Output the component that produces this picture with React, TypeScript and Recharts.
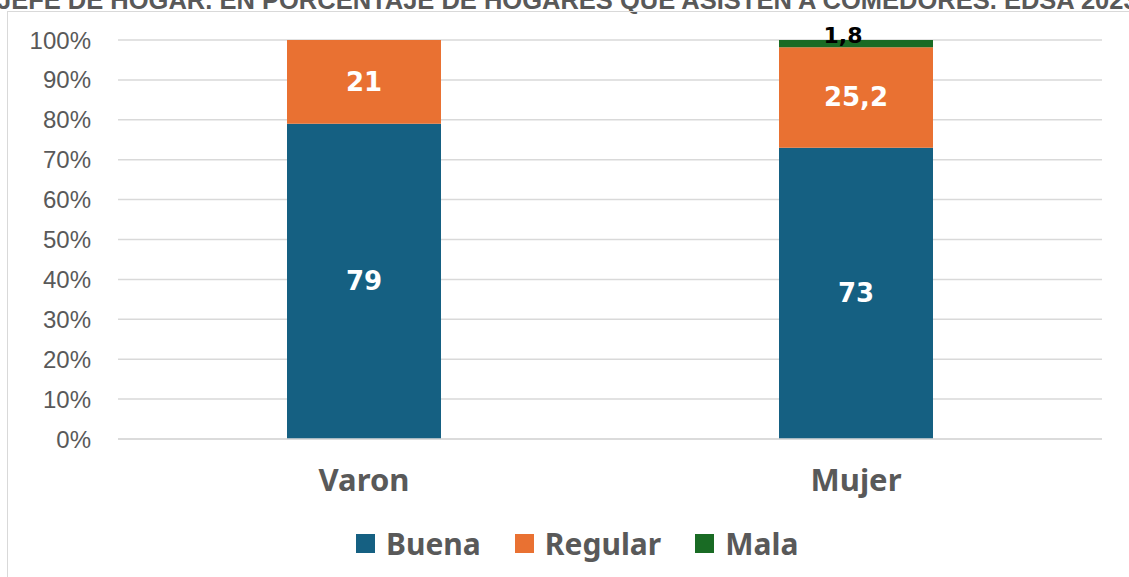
import { BarChart, Bar, XAxis, YAxis, CartesianGrid, Legend, LabelList } from "recharts";

const categories = ["Varon", "Mujer"];
const buena = [79, 73];
const regular = [21, 25.2];
const mala = [0, 1.8];
const yTicks = [0, 10, 20, 30, 40, 50, 60, 70, 80, 90, 100];

const series = [
  { key: "Buena", color: "#156082" },
  { key: "Regular", color: "#E97132" },
  { key: "Mala", color: "#196B24" },
];

const data = categories.map((cat, i) => ({
  cat,
  Buena: buena[i],
  Regular: regular[i],
  Mala: mala[i],
}));

const TITLE = "JEFE DE HOGAR. EN PORCENTAJE DE HOGARES QUE ASISTEN A COMEDORES. EDSA 2023";
const bold = "'Noto Sans', sans-serif";
const labelFont = "'DejaVu Sans', sans-serif";
const grey = "#595959";

const fmt = (v: number) => String(v).replace(".", ",");

const segLabel = (fill: string, size: number, lift = 0, dx = 0) => (props: any) => {
  const { x, y, width, height, value } = props;
  if (!value) return null;
  return (
    <text
      x={Number(x) + Number(width) / 2 + dx}
      y={Number(y) + Number(height) / 2 - lift}
      textAnchor="middle"
      dominantBaseline="central"
      fill={fill}
      fontFamily={labelFont}
      fontWeight={700}
      fontSize={size}
    >
      {fmt(value)}
    </text>
  );
};

function LegendBox() {
  return (
    <div
      style={{
        height: 60,
        boxSizing: "border-box",
        display: "flex",
        alignItems: "center",
        paddingLeft: 356,
        paddingBottom: 8,
        gap: 34,
        fontFamily: bold,
        fontWeight: 700,
        fontSize: 30,
        color: grey,
      }}
    >
      {series.map((s) => (
        <span key={s.key} style={{ display: "flex", alignItems: "center", gap: 11 }}>
          <span style={{ width: 19, height: 19, background: s.color, display: "inline-block" }} />
          {s.key}
        </span>
      ))}
    </div>
  );
}

export default function App() {
  return (
    <div style={{ position: "absolute", left: 0, top: 0, width: 1129, height: 577, overflow: "hidden", background: "#fff" }}>
      <svg width={1129} height={20} style={{ position: "absolute", left: 0, top: 0 }}>
        <text x={-3} y={9} fontFamily="'Liberation Sans', Arial, sans-serif" fontWeight={700} fontSize={25.5} fill={grey}>
          {TITLE}
        </text>
      </svg>
      <div
        style={{
          position: "absolute",
          left: 7,
          top: 11,
          width: 1140,
          height: 600,
          border: "1px solid #d9d9d9",
        }}
      />
      <div style={{ position: "absolute", left: 0, top: 0 }}>
        <BarChart width={1129} height={577} data={data} margin={{ top: 40, right: 27, left: 0, bottom: 0 }}>
          <CartesianGrid vertical={false} stroke="#d9d9d9" strokeWidth={1.5} />
          <XAxis
            dataKey="cat"
            axisLine={{ stroke: "#d9d9d9", strokeWidth: 1.5 }}
            tickLine={false}
            tickSize={0}
            tickMargin={30}
            height={78}
            tick={{ fill: grey, fontSize: 31, fontWeight: 700, fontFamily: bold }}
          />
          <YAxis
            domain={[0, 100]}
            ticks={yTicks}
            tickFormatter={(v) => `${v}%`}
            axisLine={false}
            tickLine={false}
            tickSize={0}
            tickMargin={27}
            width={118}
            tick={{ fill: grey, fontSize: 24, fontFamily: "'Liberation Sans', Arial, sans-serif" }}
          />
          <Legend verticalAlign="bottom" height={60} content={() => <LegendBox />} wrapperStyle={{ left: 0, width: 1129 }} />
          <Bar dataKey="Buena" stackId="a" fill="#156082" barSize={154} isAnimationActive={false}>
            <LabelList dataKey="Buena" content={segLabel("#fff", 26)} />
          </Bar>
          <Bar dataKey="Regular" stackId="a" fill="#E97132" barSize={154} isAnimationActive={false}>
            <LabelList dataKey="Regular" content={segLabel("#fff", 26)} />
          </Bar>
          <Bar dataKey="Mala" stackId="a" fill="#196B24" barSize={154} isAnimationActive={false}>
            <LabelList dataKey="Mala" content={segLabel("#000", 22, 8, -13)} />
          </Bar>
        </BarChart>
      </div>
    </div>
  );
}
